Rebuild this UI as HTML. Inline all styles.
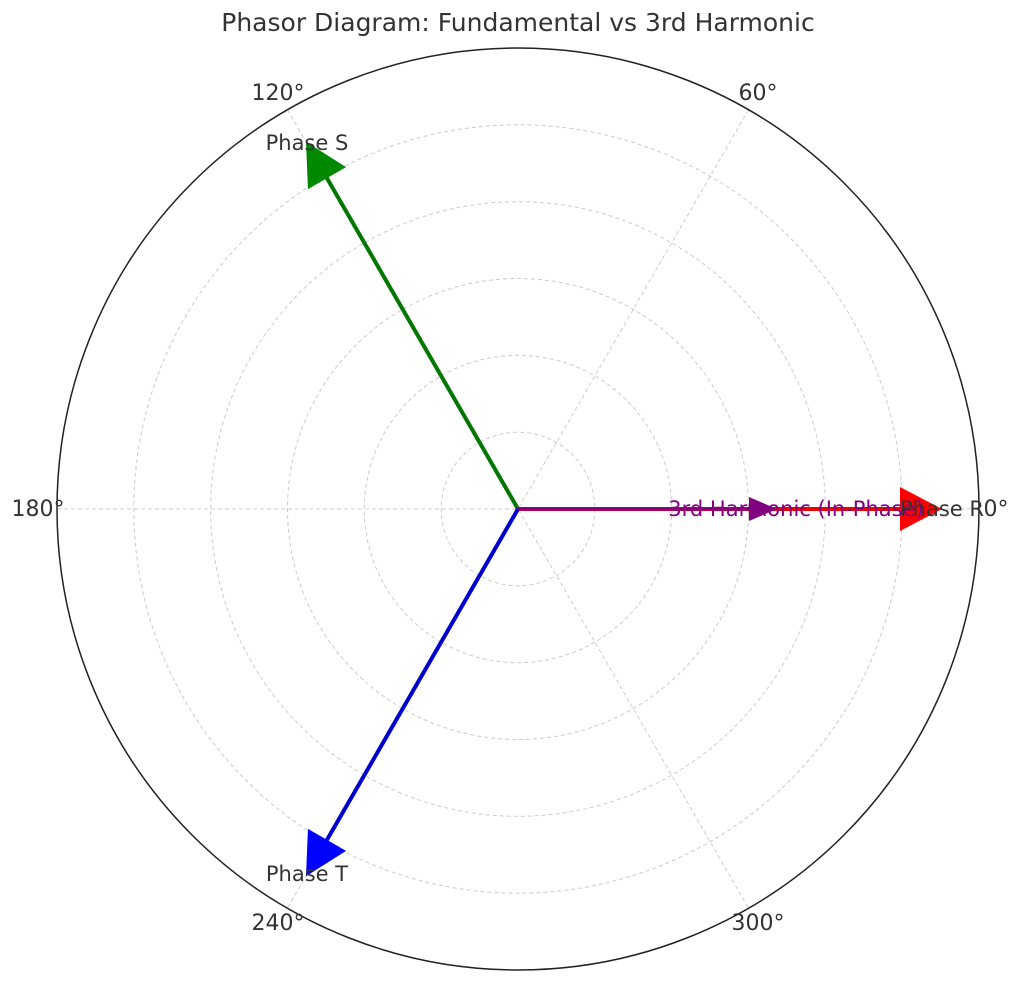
<!DOCTYPE html>
<html><head><style>body{margin:0;background:#fff}</style></head><body>
<svg width="1024" height="983" xmlns="http://www.w3.org/2000/svg" font-family="DejaVu Sans, Liberation Sans, sans-serif">
<rect width="1024" height="983" fill="#fff"/>
<text x="518" y="31" font-size="25" fill="#333" text-anchor="middle">Phasor Diagram: Fundamental vs 3rd Harmonic</text>
<g fill="none" stroke="#ccc" stroke-width="1" stroke-dasharray="4,3">
<circle cx="518" cy="509" r="76.8"/><circle cx="518" cy="509" r="153.7"/><circle cx="518" cy="509" r="230.5"/><circle cx="518" cy="509" r="307.3"/><circle cx="518" cy="509" r="384.2"/>
<line x1="57" y1="509" x2="979" y2="509"/>
<line x1="287.5" y1="109.8" x2="748.5" y2="908.2"/>
<line x1="748.5" y1="109.8" x2="287.5" y2="908.2"/>
</g>
<circle cx="518" cy="509" r="461" fill="none" stroke="#222" stroke-width="1.5"/>
<g transform="translate(518,509)">
<line x1="0" y1="0" x2="384" y2="0" stroke="#e00" stroke-width="4"/>
<polygon points="382,-22 424,0 382,22" fill="#f00"/>
<g transform="rotate(-120)"><line x1="0" y1="0" x2="384" y2="0" stroke="#070" stroke-width="4"/><polygon points="382,-22 424,0 382,22" fill="#080"/></g>
<g transform="rotate(120)"><line x1="0" y1="0" x2="384" y2="0" stroke="#00c" stroke-width="4"/><polygon points="382,-22 424,0 382,22" fill="#00f"/></g>
<line x1="0" y1="0" x2="232" y2="0" stroke="#800080" stroke-width="3"/>
<polygon points="231,-12 259,0 231,12" fill="#800080"/>
</g>
<g font-size="21" fill="#333" text-anchor="middle">
<text x="307" y="150">Phase S</text>
<text x="307" y="881">Phase T</text>
<text x="796" y="516" fill="#800080">3rd Harmonic (In-Phase)</text>
<text x="942" y="516">Phase R</text>
<text x="996" y="516" font-size="22">0°</text>
<text x="758" y="100" font-size="22">60°</text>
<text x="278" y="100" font-size="22">120°</text>
<text x="38" y="516" font-size="22">180°</text>
<text x="278" y="930" font-size="22">240°</text>
<text x="758" y="930" font-size="22">300°</text>
</g>
</svg>
</body></html>
